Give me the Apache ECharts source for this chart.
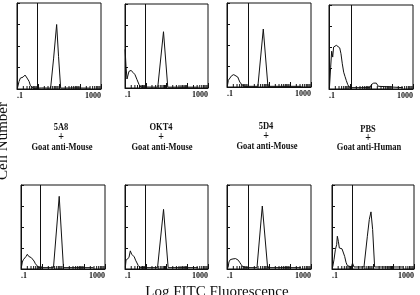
<!DOCTYPE html>
<html>
<head>
<meta charset="utf-8">
<script src="https://cdn.jsdelivr.net/npm/echarts@6/dist/echarts.min.js"></script>
<style>html,body{margin:0;padding:0;background:#fff}#c{width:420px;height:295px}</style>
</head>
<body>
<div id="c"></div>
<script>
// Histogram data: [fluorescence, relative cell number (% of panel height)]
const hist5A8Top = [[0.105,1],[0.125,8.8],[0.145,12.7],[0.167,11.5],[0.194,13.8],[0.242,16.2],[0.302,12.7],[0.377,8.8],[0.436,3.8],[0.506,1.5],[0.63,0.8],[1.5,1.2],[3.98,1],[5.5,35],[7.73,75],[9.5,38],[12.0,1],[50,1.2],[309,1]];
const histOKT4Top = [[0.101,46],[0.112,25.7],[0.125,10.7],[0.155,19.8],[0.195,20.9],[0.244,18.6],[0.304,15.8],[0.38,9.9],[0.477,4],[0.59,1.2],[3.8,1],[7.16,67],[11.5,1],[354,1]];
const hist5D4Top = [[0.104,1],[0.116,8],[0.134,9.5],[0.167,13.5],[0.209,14.7],[0.26,12.7],[0.325,11.9],[0.405,6],[0.506,2.8],[0.68,0.8],[2.96,0.8],[5.35,69],[8.9,0.8],[355,0.8]];
const histPBSTop = [[0.105,1.6],[0.12,26],[0.134,45],[0.15,38],[0.166,50],[0.193,48],[0.224,52],[0.269,51],[0.323,49],[0.372,42],[0.43,30],[0.5,20],[0.576,15],[0.668,10],[0.776,5.5],[0.894,2.4],[1.04,4.4],[1.2,1.6],[8.7,1.6],[10.7,5.5],[13.4,7],[17.9,7],[22.4,3.2],[27.8,1.6],[333,1.6]];
const hist5A8Bot = [[0.104,1.6],[0.116,8.3],[0.129,11],[0.15,12],[0.174,15],[0.2,17.5],[0.233,15],[0.269,16],[0.31,13.5],[0.362,12],[0.418,9.5],[0.484,6.3],[0.56,4.8],[0.7,1.6],[3.52,1.6],[6.6,86.5],[10.5,1.6],[287,1.6]];
const histOKT4Bot = [[0.104,2],[0.112,10.4],[0.134,11],[0.155,13.6],[0.18,21.6],[0.209,17.6],[0.242,19],[0.28,14.4],[0.324,10.4],[0.377,7.2],[0.436,4],[0.544,1.6],[3.7,1.6],[7.2,71],[12,1.6],[331,1.6]];
const hist5D4Bot = [[0.112,1.6],[0.124,8.4],[0.144,11.2],[0.166,9.6],[0.193,12],[0.224,13.6],[0.258,12.4],[0.299,12],[0.346,10.4],[0.4,8],[0.464,5.6],[0.537,3.2],[0.668,4],[0.776,1.6],[2.68,1.6],[4.8,75],[8.6,1.6],[333,1.6]];
const histPBSBot = [[0.108,2.4],[0.125,11],[0.146,23],[0.169,29],[0.182,39],[0.204,33],[0.228,25],[0.265,23],[0.308,24],[0.357,22],[0.415,15],[0.482,8],[0.56,4],[0.65,2.4],[0.877,2.4],[1.0,7],[1.18,2.4],[3.63,2.4],[5.3,39],[6.6,59],[7.97,68],[9.6,47],[12.0,2.4],[302,2.4]];

const histograms = [hist5A8Top, histOKT4Top, hist5D4Top, histPBSTop, hist5A8Bot, histOKT4Bot, hist5D4Bot, histPBSBot];
const gateValues = [0.91, 0.93, 0.98, 1.15, 0.87, 0.98, 1.04, 1.0];
const minorTickValues = [0.2,0.3,0.4,0.5,0.6,0.7,0.8,0.9,2,3,4,5,6,7,8,9,20,30,40,50,60,70,80,90,200,300,400,500,600,700,800,900];
const xTickLabels = {min: '.1', max: '1000'};
const antibodies = ['5A8', 'OKT4', '5D4', 'PBS'];
const secondary = ['Goat anti-Mouse', 'Goat anti-Mouse', 'Goat anti-Mouse', 'Goat anti-Human'];
const yAxisTitle = 'Cell Number';
const xAxisTitle = 'Log FITC Fluorescence';

// layout
const frames = [
  [17,3,84,86],[125,4,83,84],[227,3,84,84],[329,5,84,84],
  [21,185,84,84],[125,185,83,84],[227,185,84,84],[332,185,82,84]
];
const labelPos = [
  [61,127,137,147],[161,127,137,147],[266,126,136,146],[368,129,138,147]
];

const ink = '#111';
const grids = [], xAxes = [], yAxes = [], series = [];
frames.forEach((f, i) => {
  grids.push({left: f[0], top: f[1], width: f[2], height: f[3], show: true, borderColor: ink, borderWidth: 1, containLabel: false, outerBoundsMode: 'none'});
  xAxes.push({
    type: 'log', logBase: 10, min: 0.1, max: 1000, gridIndex: i,
    axisLine: {show: true, lineStyle: {color: ink, width: 1}},
    axisTick: {show: true, inside: true, length: 5, lineStyle: {color: ink, width: 1}},
    splitLine: {show: false},
    axisLabel: {
      show: true, margin: 3, fontSize: 8, fontWeight: 'bold', fontFamily: 'Liberation Serif', color: ink,
      alignMinLabel: 'left', alignMaxLabel: 'right',
      formatter: v => (Math.abs(v - 0.1) < 1e-6 ? xTickLabels.min : (Math.abs(v - 1000) < 1e-3 ? xTickLabels.max : ''))
    }
  });
  yAxes.push({
    type: 'value', min: 0, max: 100, interval: 25, gridIndex: i,
    axisLine: {show: true, lineStyle: {color: ink, width: 1}},
    axisTick: {show: true, inside: true, length: 3, lineStyle: {color: ink}},
    axisLabel: {show: false}, splitLine: {show: false}
  });
  series.push({
    type: 'line', xAxisIndex: i, yAxisIndex: i, data: histograms[i], showSymbol: false, symbol: 'none',
    lineStyle: {color: ink, width: 1}, silent: true, animation: false, z: 3,
    markLine: {silent: true, symbol: 'none', animation: false, label: {show: false},
      lineStyle: {color: ink, width: 1, type: 'solid'}, data: [{xAxis: gateValues[i]}]}
  });
  series.push({
    type: 'custom', xAxisIndex: i, yAxisIndex: i, coordinateSystem: 'cartesian2d', silent: true, animation: false, z: 4,
    encode: {x: 0, y: 1},
    data: minorTickValues.map(v => [v, 0]),
    renderItem: (params, api) => {
      const p = api.coord([api.value(0), api.value(1)]);
      return {type: 'line', shape: {x1: p[0], y1: p[1], x2: p[0], y2: p[1] - 3}, style: {stroke: ink, lineWidth: 1}};
    }
  });
});

const graphics = [];
antibodies.forEach((name, i) => {
  const lp = labelPos[i];
  const base = {fontFamily: 'Liberation Serif', fontWeight: 'bold', fontSize: 8.5, fill: ink, align: 'center', verticalAlign: 'middle'};
  graphics.push({type: 'text', x: lp[0], y: lp[1], scaleY: 1.2, style: Object.assign({text: name}, base)});
  graphics.push({type: 'text', x: lp[0], y: lp[2], scaleY: 1.2, style: Object.assign({text: '+'}, base, {fontSize: 10})});
  graphics.push({type: 'text', x: lp[0] + 1, y: lp[3], scaleY: 1.2, style: Object.assign({text: secondary[i]}, base)});
});
graphics.push({type: 'text', x: 3, y: 141, rotation: Math.PI / 2,
  style: {text: yAxisTitle, fontFamily: 'Liberation Serif', fontSize: 15, fill: ink, align: 'center', verticalAlign: 'middle'}});
graphics.push({type: 'text', x: 217, y: 292,
  style: {text: xAxisTitle, fontFamily: 'Liberation Serif', fontSize: 15, fill: ink, align: 'center', verticalAlign: 'middle'}});

const chart = echarts.init(document.getElementById('c'), null, {renderer: 'canvas'});
chart.setOption({
  backgroundColor: '#fff', animation: false,
  grid: grids, xAxis: xAxes, yAxis: yAxes, series: series, graphic: graphics
});
</script>
</body>
</html>
